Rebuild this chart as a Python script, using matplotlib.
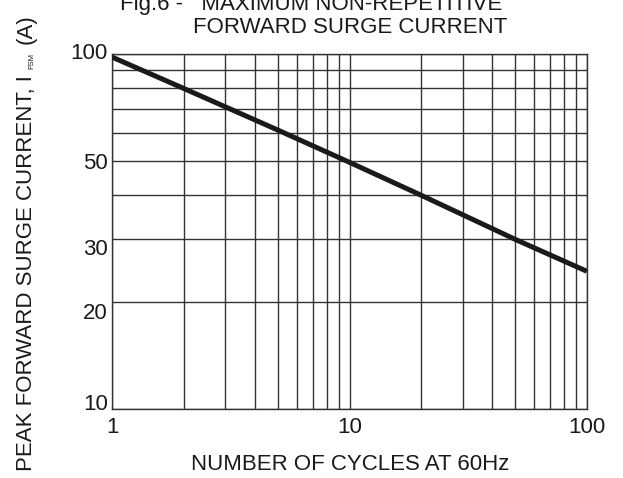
import matplotlib.pyplot as plt
from matplotlib.ticker import FixedLocator, NullFormatter, FixedFormatter
from matplotlib.transforms import ScaledTranslation

# surge curve
cycles = [1, 2, 5, 10, 20, 50, 100]
surge_current = [98, 80, 61, 49.5, 40, 30, 24.4]

x_ticks = [1, 10, 100]
x_ticklabels = ["1", "10", "100"]
y_ticks = [10, 20, 30, 50, 100]
y_ticklabels = ["10", "20", "30", "50", "100"]

x_grid = [1, 2, 3, 4, 5, 6, 7, 8, 9, 10, 20, 30, 40, 50, 60, 70, 80, 90, 100]
y_grid = [10, 20, 30, 40, 50, 60, 70, 80, 90, 100]

plt.rcParams["font.family"] = ["Liberation Sans", "DejaVu Sans"]
FS = 16
INK = "#1a1a1a"
W, H = 623, 478

fig = plt.figure(figsize=(W / 100, H / 100), dpi=100)
ax = fig.add_axes([0.180, 0.145, 0.762, 0.742])

ax.set_xscale("log")
ax.set_yscale("log")
ax.set_xlim(1, 100)
ax.set_ylim(10, 100)

for xv in x_grid:
    ax.axvline(xv, color="#333333", lw=1.0, zorder=1)
for yv in y_grid:
    ax.axhline(yv, color="#333333", lw=1.0, zorder=1)

ax.plot(cycles, surge_current, color=INK, lw=3.6, solid_capstyle="butt", zorder=3)

ax.xaxis.set_major_locator(FixedLocator(x_ticks))
ax.xaxis.set_major_formatter(FixedFormatter(x_ticklabels))
ax.xaxis.set_minor_locator(FixedLocator([]))
ax.xaxis.set_minor_formatter(NullFormatter())
ax.yaxis.set_major_locator(FixedLocator(y_ticks))
ax.yaxis.set_major_formatter(FixedFormatter(y_ticklabels))
ax.yaxis.set_minor_locator(FixedLocator([]))
ax.tick_params(axis="both", length=0, labelsize=FS, colors=INK)
ax.tick_params(axis="x", pad=6)
ax.tick_params(axis="y", pad=3)

# the source nudges its y labels up or down off the grid lines (pixels, +down)
nudge = {"10": -7, "20": 9, "30": 8, "50": 0, "100": -3}
for lab in ax.get_yticklabels():
    dy = nudge.get(lab.get_text(), 0)
    lab.set_transform(lab.get_transform() + ScaledTranslation(0, -dy / 100, fig.dpi_scale_trans))

for sp in ax.spines.values():
    sp.set_color("#333333")
    sp.set_linewidth(1.0)

fig.text(350 / W, 1 - 470 / H, "NUMBER OF CYCLES AT 60Hz", fontsize=FS,
         ha="center", va="baseline", color=INK)

# title, top line is cut by the image edge as in the source
fig.text(502 / W, 1 - 10 / H, "Fig.6 -   MAXIMUM NON-REPETITIVE", fontsize=FS,
         ha="right", va="baseline", color=INK)
fig.text(507 / W, 1 - 33 / H, "FORWARD SURGE CURRENT", fontsize=FS,
         ha="right", va="baseline", color=INK)

# y label built from pieces so the FSM subscript can be tiny
fig.canvas.draw()
renderer = fig.canvas.get_renderer()
base_x = 32 / W
y0 = 1 - 471 / H
parts = [("PEAK FORWARD SURGE CURRENT, I", FS, 0, 6),
         ("FSM", 5.5, 1.5, 9),
         ("(A)", FS, 0, 0)]
for txt, size, dx, gap in parts:
    t = fig.text(base_x + dx / W, y0, txt, fontsize=size, rotation=90,
                 rotation_mode="anchor", ha="left", va="baseline", color=INK)
    bb = t.get_window_extent(renderer)
    y0 = bb.y1 / H + gap / H

fig.savefig("out.png", dpi=100)
